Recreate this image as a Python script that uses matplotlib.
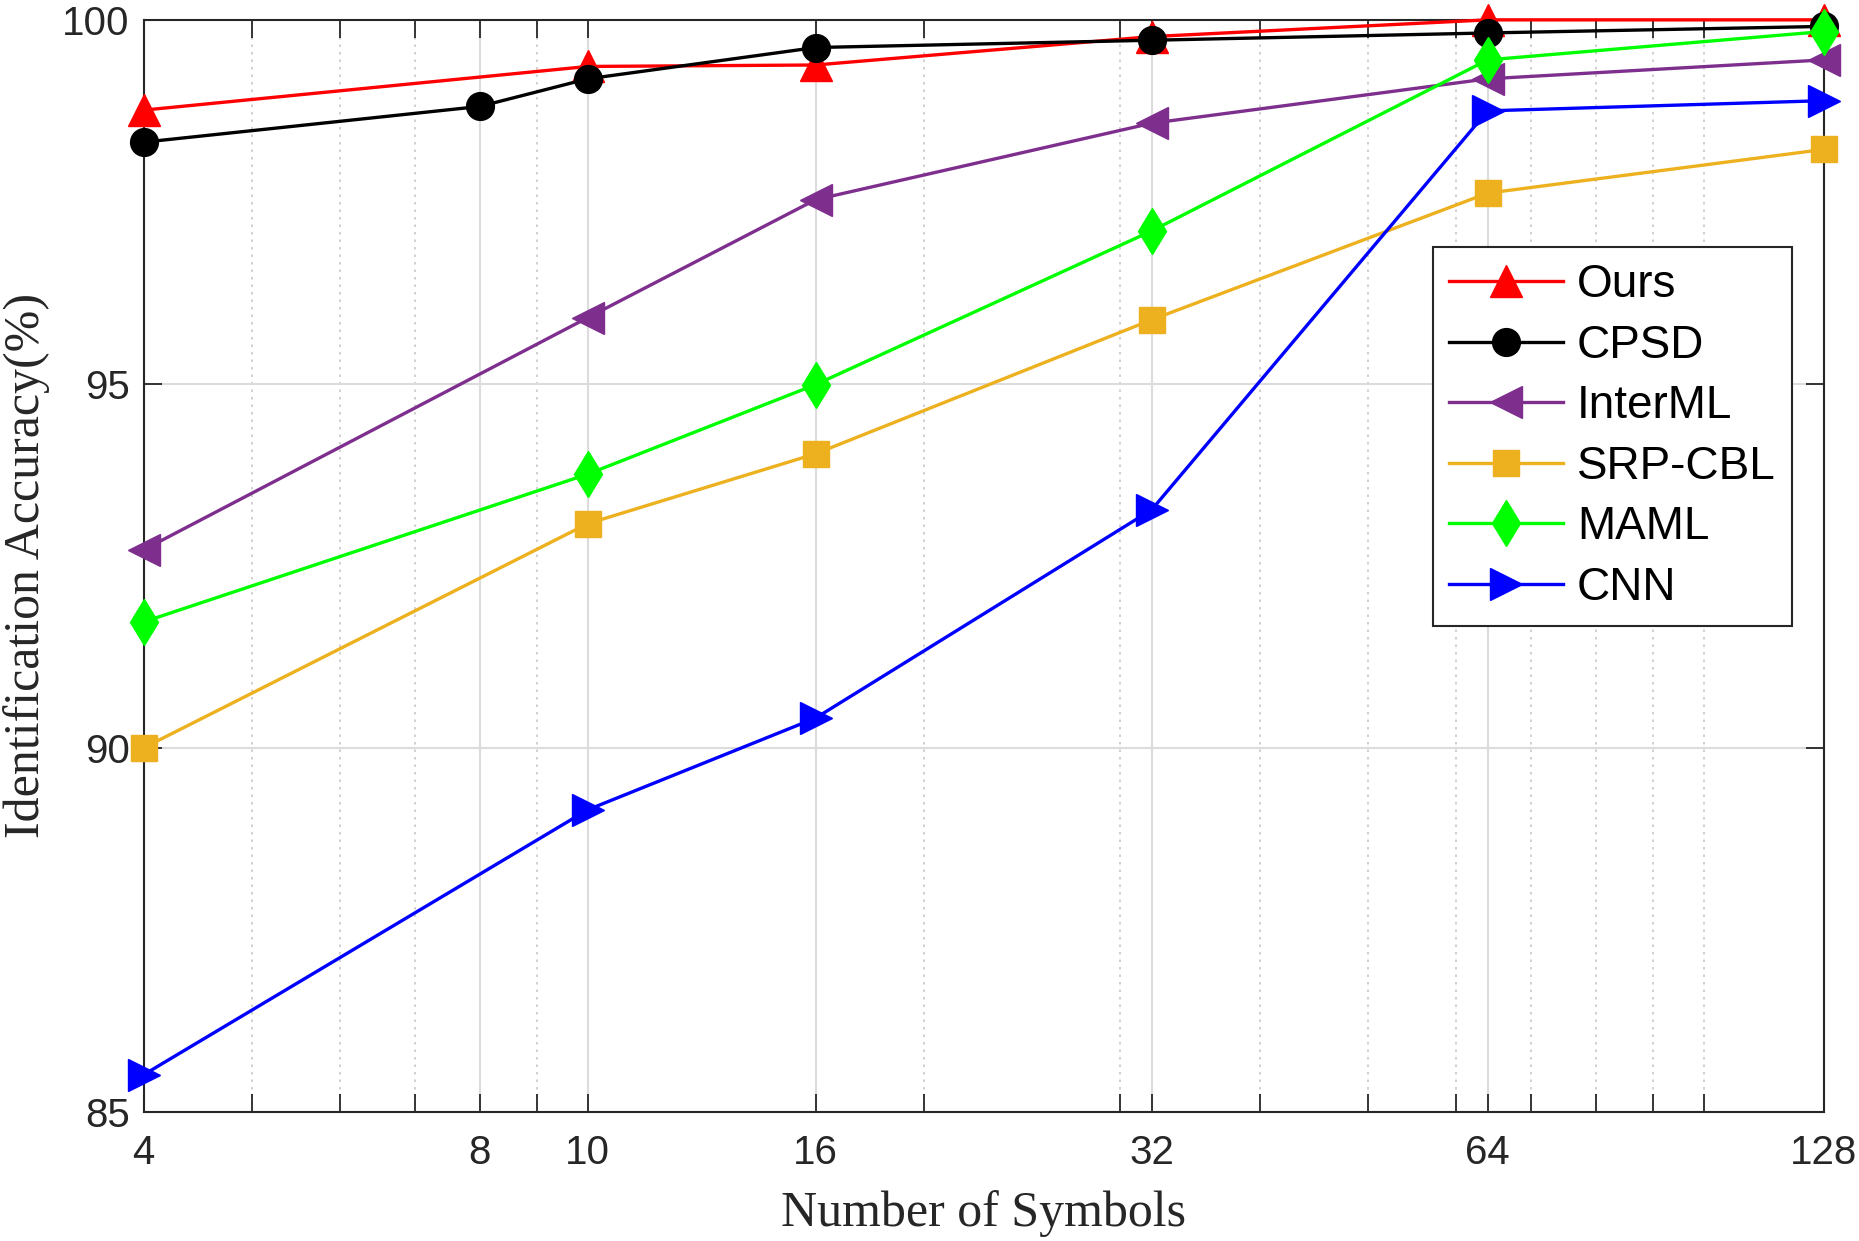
import matplotlib
matplotlib.use("Agg")
import matplotlib.pyplot as plt
from matplotlib.ticker import FixedLocator, NullFormatter, FixedFormatter

x_main = [4, 10, 16, 32, 64, 128]
x_cpsd = [4, 8, 10, 16, 32, 64, 128]

ours = [98.76, 99.36, 99.38, 99.77, 100.0, 100.0]
cpsd = [98.32, 98.81, 99.19, 99.62, 99.72, 99.82, 99.91]
interml = [92.72, 95.91, 97.53, 98.58, 99.19, 99.45]
srpcbl = [90.0, 93.08, 94.04, 95.88, 97.62, 98.22]
maml = [91.73, 93.76, 94.99, 97.10, 99.45, 99.84]
cnn = [85.51, 89.15, 90.41, 93.27, 98.75, 98.89]

xticks = [4, 8, 10, 16, 32, 64, 128]
xminor = [5, 6, 7, 9, 20, 30, 40, 50, 60, 70, 80, 90, 100]
yticks = [85, 90, 95, 100]

fig = plt.figure(figsize=(18.59, 12.41), dpi=100)
ax = fig.add_axes([0.0772, 0.104, 0.981 - 0.0772, 0.984 - 0.104])

series = [
    ("Ours", x_main, ours, "#FF0000", "^"),
    ("CPSD", x_cpsd, cpsd, "#000000", "o"),
    ("InterML", x_main, interml, "#7E2F8E", "<"),
    ("SRP-CBL", x_main, srpcbl, "#EDB120", "s"),
    ("MAML", x_main, maml, "#00FF00", "d"),
    ("CNN", x_main, cnn, "#0000FF", ">"),
]
msize = {"^": 23, "o": 20, "<": 23, "s": 19, "d": 23, ">": 23}
for i, (name, xs, ys, c, m) in enumerate(series):
    ax.plot(xs, ys, color=c, marker=m, markersize=msize[m], linewidth=2.4,
            markerfacecolor=c, markeredgecolor=c, label=name, clip_on=False,
            zorder=3 + i)

ax.set_xscale("log")
ax.set_xlim(4, 128)
ax.set_ylim(85, 100)
ax.xaxis.set_major_locator(FixedLocator(xticks))
ax.xaxis.set_major_formatter(FixedFormatter([str(v) for v in xticks]))
ax.xaxis.set_minor_locator(FixedLocator(xminor))
ax.xaxis.set_minor_formatter(NullFormatter())
ax.set_yticks(yticks)
ax.set_yticklabels([str(v) for v in yticks])

ax.grid(True, which="major", color="#DCDCDC", linewidth=1.5, linestyle="-", zorder=0)
ax.grid(True, which="minor", axis="x", color="#C8C8C8", linewidth=1.2,
        linestyle=(0, (1.5, 3)), zorder=0)
ax.set_axisbelow(True)

ax.tick_params(which="both", direction="in", top=True, right=True,
               length=13, width=1.3, color="#262626")
ax.tick_params(which="major", labelsize=29, labelcolor="#262626")
ax.tick_params(axis="x", which="major", pad=16)
ax.tick_params(axis="y", which="major", pad=10)
for lab in ax.get_xticklabels() + ax.get_yticklabels():
    lab.set_fontfamily("Liberation Sans")
for s in ax.spines.values():
    s.set_linewidth(1.5)
    s.set_color("#262626")

ax.set_xlabel("Number of Symbols", fontsize=36, family="Liberation Serif",
              color="#262626", labelpad=13)
ax.set_ylabel("Identification Accuracy(%)", fontsize=36, family="Liberation Serif",
              color="#262626", labelpad=9)

leg = ax.legend(loc="upper right", bbox_to_anchor=(0.981, 0.792),
                prop={"family": "Liberation Sans", "size": 33},
                handlelength=2.5, labelspacing=0.36, handletextpad=0.3,
                borderpad=0.35, fancybox=False, framealpha=1, borderaxespad=0)
leg.get_frame().set_edgecolor("#262626")
leg.get_frame().set_linewidth(1.5)
leg.set_zorder(20)

fig.savefig("out.png", dpi=100)
